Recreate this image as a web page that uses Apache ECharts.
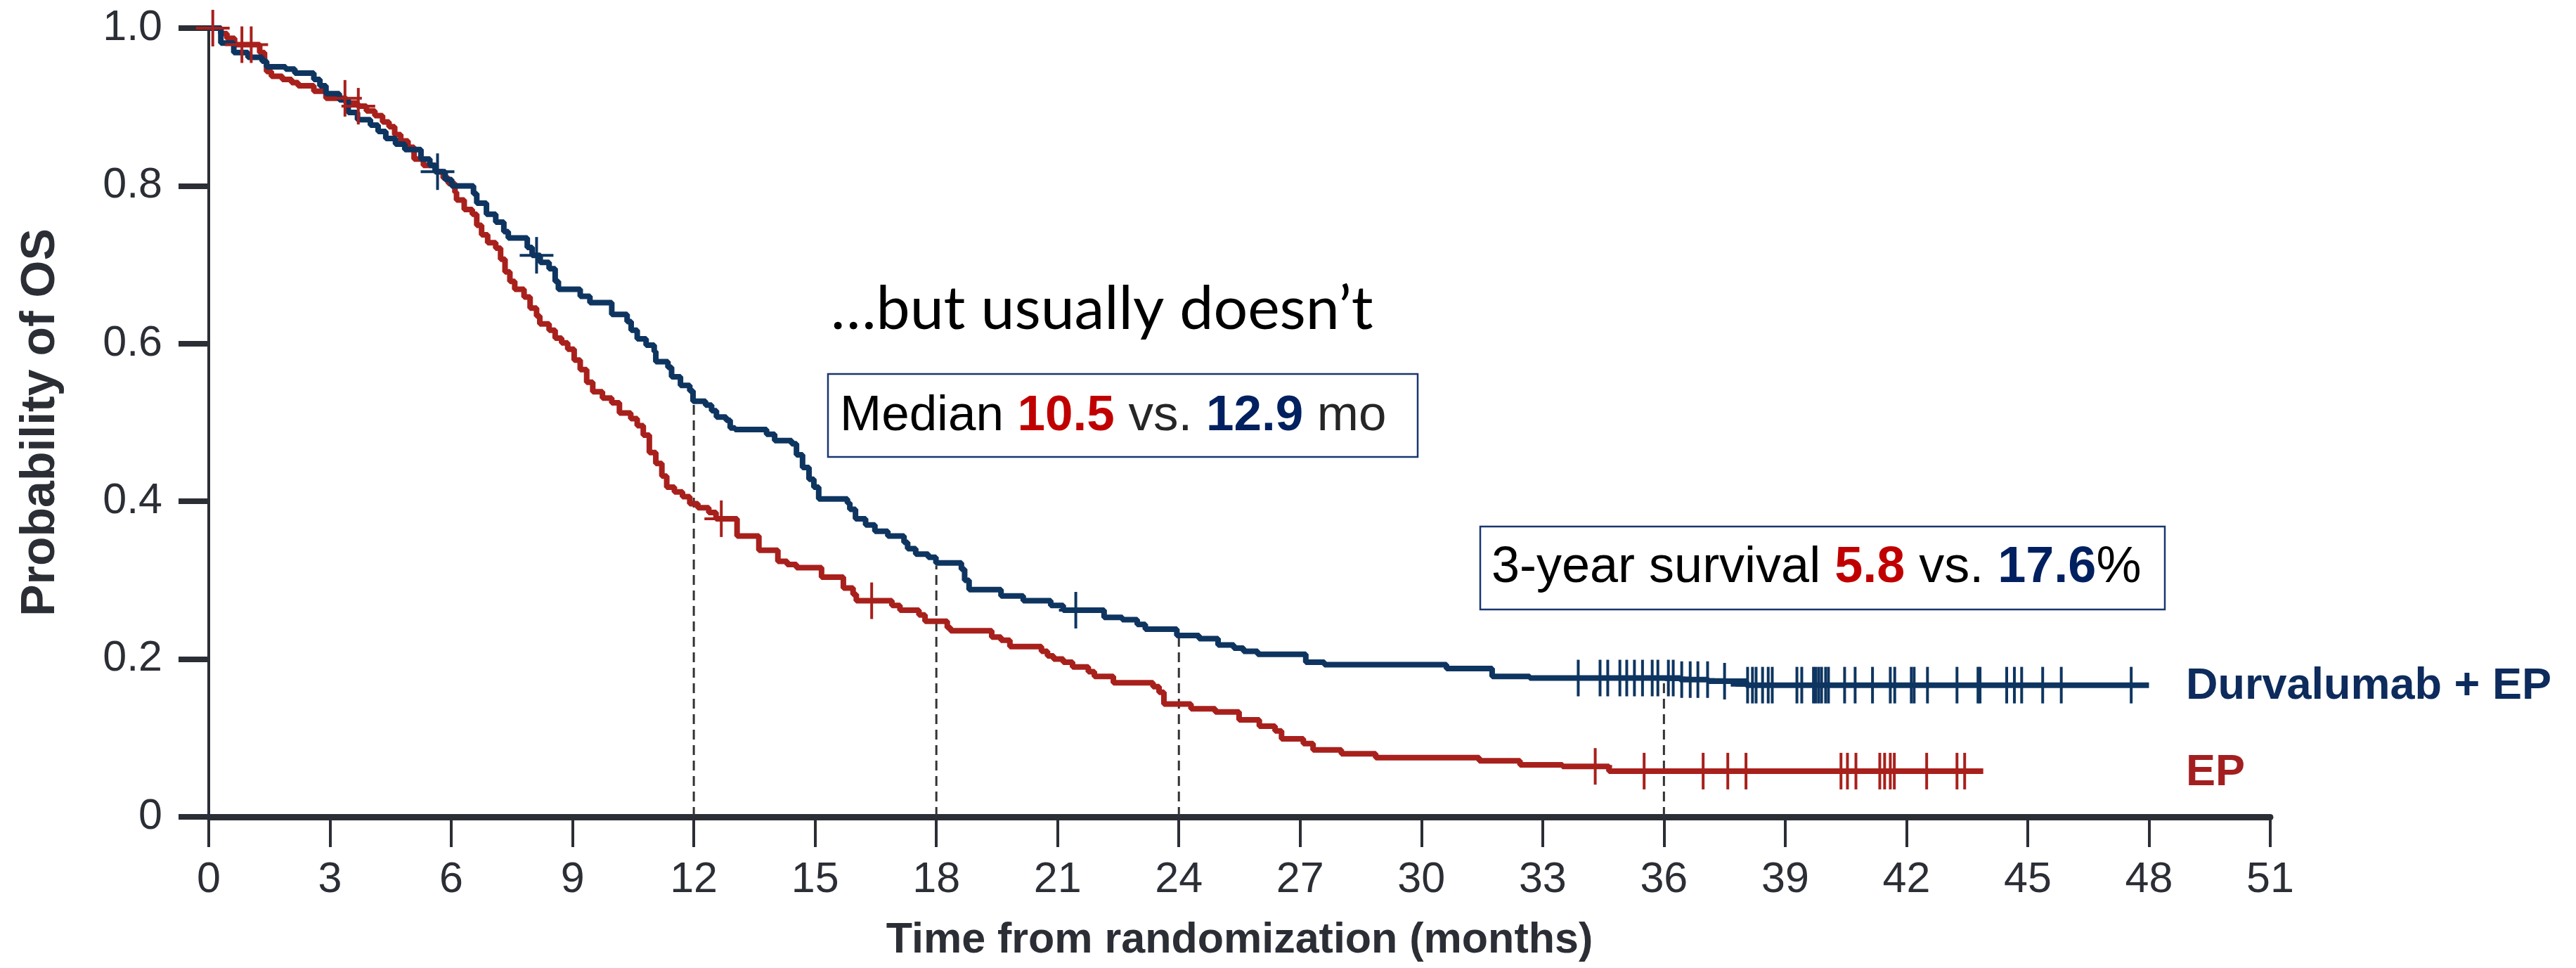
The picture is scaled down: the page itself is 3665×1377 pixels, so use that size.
<!DOCTYPE html>
<html><head><meta charset="utf-8">
<script src="https://cdn.jsdelivr.net/npm/echarts@6/dist/echarts.min.js"></script>
<style>html,body{margin:0;padding:0;background:#fff}#c{width:3665px;height:1377px}</style>
</head><body><div id="c"></div>
<script>
// ---- data ----
const durvaTimes = [0,0.3,0.62,0.97,1.32,1.43,1.9,2.13,2.6,2.75,2.9,3.23,3.45,3.68,4.0,4.19,4.38,4.62,4.85,5.25,5.47,5.6,5.85,6.01,6.55,6.63,6.87,7.1,7.3,7.41,7.88,8.0,8.2,8.42,8.57,8.65,9.19,9.43,9.97,10.35,10.45,10.6,10.82,11.02,11.06,11.36,11.45,11.67,11.9,11.98,12.29,12.44,12.56,12.8,12.9,13.02,13.8,14.0,14.42,14.54,14.69,14.85,14.97,15.09,15.8,15.86,16.0,16.25,16.48,16.8,17.2,17.29,17.49,17.8,17.99,18.62,18.7,18.81,19.6,20.15,20.83,21.14,22.15,22.6,22.97,23.17,23.95,24.5,24.97,25.36,25.6,25.95,27.14,27.6,30.62,31.75,32.68,36.4,37.1,38.04,48.0];
const durvaSurv = [1.0,0.981,0.969,0.963,0.958,0.951,0.948,0.943,0.935,0.927,0.917,0.909,0.893,0.884,0.877,0.869,0.860,0.853,0.846,0.834,0.826,0.818,0.808,0.800,0.790,0.778,0.764,0.754,0.742,0.734,0.722,0.712,0.703,0.695,0.679,0.669,0.660,0.652,0.637,0.628,0.617,0.606,0.598,0.590,0.577,0.570,0.558,0.547,0.540,0.527,0.522,0.515,0.507,0.503,0.493,0.491,0.485,0.477,0.473,0.459,0.443,0.428,0.418,0.403,0.398,0.390,0.378,0.370,0.362,0.356,0.348,0.340,0.333,0.329,0.322,0.314,0.300,0.288,0.280,0.274,0.268,0.262,0.253,0.250,0.244,0.238,0.230,0.226,0.218,0.214,0.210,0.206,0.196,0.193,0.188,0.178,0.176,0.174,0.172,0.167,0.167];
const epTimes = [0,0.3,0.45,0.64,1.26,1.38,1.43,1.55,1.82,2.05,2.21,2.6,2.9,3.4,3.68,3.9,4.11,4.3,4.46,4.6,4.75,4.93,5.08,5.31,5.62,5.8,5.93,6.09,6.13,6.32,6.52,6.63,6.75,6.9,7.1,7.22,7.33,7.45,7.57,7.8,7.95,8.11,8.19,8.42,8.57,8.73,8.88,9.04,9.19,9.35,9.5,9.74,9.97,10.16,10.44,10.6,10.75,10.9,11.06,11.21,11.33,11.52,11.72,11.9,12.1,12.37,12.55,13.07,13.61,14.08,14.31,14.54,15.16,15.7,15.94,16.02,16.9,17.1,17.57,17.72,18.27,18.35,19.37,19.6,19.82,20.6,20.75,20.9,21.14,21.37,21.76,21.91,22.38,23.36,23.51,23.63,24.3,24.9,25.49,25.99,26.38,26.54,27.08,27.32,28.02,28.87,31.43,32.44,33.49,34.64,43.9];
const epSurv = [1.0,0.993,0.987,0.979,0.969,0.957,0.945,0.939,0.935,0.931,0.927,0.920,0.911,0.905,0.901,0.895,0.889,0.881,0.875,0.865,0.857,0.849,0.834,0.826,0.818,0.810,0.803,0.792,0.782,0.770,0.764,0.750,0.738,0.728,0.721,0.707,0.691,0.679,0.669,0.659,0.645,0.635,0.625,0.617,0.607,0.601,0.593,0.579,0.567,0.551,0.539,0.531,0.525,0.512,0.505,0.496,0.484,0.462,0.448,0.432,0.418,0.412,0.406,0.397,0.392,0.386,0.378,0.356,0.338,0.324,0.320,0.316,0.304,0.290,0.282,0.274,0.268,0.262,0.256,0.248,0.240,0.236,0.228,0.224,0.216,0.210,0.204,0.200,0.196,0.190,0.184,0.178,0.170,0.165,0.158,0.143,0.137,0.133,0.123,0.115,0.109,0.099,0.093,0.085,0.080,0.075,0.071,0.066,0.064,0.058,0.058];
const durvaCensor = [5.66,8.11,21.45,33.88,34.42,34.61,34.91,35.08,35.27,35.47,35.71,35.85,36.11,36.23,36.44,36.65,36.84,37.08,37.5,38.07,38.19,38.28,38.44,38.58,38.68,39.29,39.41,39.70,39.76,39.83,39.9,40.0,40.07,40.47,40.73,41.16,41.6,41.71,42.12,42.19,42.52,43.25,43.77,43.82,44.48,44.67,44.85,45.37,45.83,47.56];
const epCensor = [0.1,0.82,1.05,3.37,3.7,12.68,16.4,34.3,35.51,36.97,37.58,38.03,40.38,40.54,40.75,41.34,41.46,41.6,41.7,42.5,43.25,43.44];
const refTimes = [12, 18, 24, 36];
const seriesNames = ['Durvalumab + EP', 'EP'];
const xAxisTitle = 'Time from randomization (months)';
const yAxisTitle = 'Probability of OS';

// ---- helpers ----
function pairs(ts, vs) { return ts.map((t, i) => [t, vs[i]]); }
function survAt(ts, vs, t) { let v = vs[0]; for (let i = 0; i < ts.length; i++) { if (ts[i] <= t) v = vs[i]; else break; } return v; }

const BLUE = '#0E3560';
const RED = '#A8201C';
const AXIS = '#2B2E35';
const SANS = "'Liberation Sans',Arial,sans-serif";

function censorSeries(ts, vs, cens, color) {
  return {
    type: 'custom', z: 4, silent: true,
    data: cens.map(t => [t, survAt(ts, vs, t)]),
    renderItem: function (params, api) {
      const p = api.coord([api.value(0), api.value(1)]);
      return { type: 'group', children: [
        { type: 'line', shape: { x1: p[0], y1: p[1] - 26, x2: p[0], y2: p[1] + 26 }, style: { stroke: color, lineWidth: 4 } },
        { type: 'line', shape: { x1: p[0] - 24, y1: p[1], x2: p[0] + 24, y2: p[1] }, style: { stroke: color, lineWidth: 4 } }
      ]};
    }
  };
}

const chart = echarts.init(document.getElementById('c'), null, { renderer: 'canvas' });
chart.setOption({
  animation: false,
  backgroundColor: '#ffffff',
  grid: { left: 297, right: 435, top: 40, bottom: 215, containLabel: false },
  xAxis: {
    type: 'value', min: 0, max: 51, interval: 3,
    name: xAxisTitle, nameLocation: 'middle', nameGap: 146,
    nameTextStyle: { fontFamily: SANS, fontWeight: 'bold', fontSize: 61, color: AXIS },
    axisLine: { lineStyle: { color: AXIS, width: 9 } },
    axisTick: { length: 43, lineStyle: { color: AXIS, width: 4 } },
    axisLabel: { fontFamily: SANS, fontSize: 61, color: AXIS, margin: 60 },
    splitLine: { show: false }
  },
  yAxis: {
    type: 'value', min: 0, max: 1, interval: 0.2,
    name: yAxisTitle, nameLocation: 'middle', nameRotate: 90, nameGap: 205,
    nameTextStyle: { fontFamily: SANS, fontWeight: 'bold', fontSize: 68, color: AXIS },
    axisLine: { show: true, lineStyle: { color: AXIS, width: 4 } },
    axisTick: { show: true, length: 43, lineStyle: { color: AXIS, width: 8 } },
    axisLabel: { fontFamily: SANS, fontSize: 61, color: AXIS, margin: 66,
      formatter: v => v === 0 ? '0' : v.toFixed(1) },
    splitLine: { show: false }
  },
  series: [
    { type: 'custom', z: 1, silent: true,
      data: refTimes.map(t => [t, survAt(durvaTimes, durvaSurv, t)]),
      renderItem: function (params, api) {
        const a = api.coord([api.value(0), 0]);
        const b = api.coord([api.value(0), api.value(1)]);
        return { type: 'line', shape: { x1: a[0], y1: a[1], x2: b[0], y2: b[1] + 4 },
          style: { stroke: '#333333', lineWidth: 3, lineDash: [14, 8] } };
      }
    },
    { name: seriesNames[1], type: 'line', step: 'end', z: 3, showSymbol: false, silent: true,
      data: pairs(epTimes, epSurv), lineStyle: { color: RED, width: 8 } },
    { name: seriesNames[0], type: 'line', step: 'end', z: 3, showSymbol: false, silent: true,
      data: pairs(durvaTimes, durvaSurv), lineStyle: { color: BLUE, width: 8 } },
    censorSeries(epTimes, epSurv, epCensor, RED),
    censorSeries(durvaTimes, durvaSurv, durvaCensor, BLUE)
  ],
  graphic: [
    { type: 'text', x: 1182, y: 440, z: 10,
      style: { text: '\u2026but usually doesn\u2019t', fill: '#000', font: "86px Lato, 'Open Sans', sans-serif",
        textAlign: 'left', textVerticalAlign: 'middle', align: 'left', verticalAlign: 'middle' } },
    { type: 'rect', z: 10, shape: { x: 1178, y: 532, width: 839, height: 118 },
      style: { fill: '#ffffff', stroke: '#1A3670', lineWidth: 2.5 } },
    { type: 'text', x: 1195, y: 592, z: 11,
      style: { text: '{k|Median }{r|10.5}{g| vs. }{b|12.9}{g| mo}',
        font: "71px 'Liberation Sans', Arial, sans-serif", fill: '#000',
        textAlign: 'left', textVerticalAlign: 'middle', align: 'left', verticalAlign: 'middle',
        rich: {
          k: { fill: '#000000', fontSize: 71, fontFamily: SANS },
          g: { fill: '#262626', fontSize: 71, fontFamily: SANS },
          r: { fill: '#C00000', fontSize: 71, fontFamily: SANS, fontWeight: 'bold' },
          b: { fill: '#002060', fontSize: 71, fontFamily: SANS, fontWeight: 'bold' }
        } } },
    { type: 'rect', z: 10, shape: { x: 2106, y: 749, width: 974, height: 118 },
      style: { fill: '#ffffff', stroke: '#1A3670', lineWidth: 2.5 } },
    { type: 'text', x: 2122, y: 808, z: 11,
      style: { text: '{k|3-year survival }{r|5.8}{k| vs. }{b|17.6}{k|%}',
        font: "72px 'Liberation Sans', Arial, sans-serif", fill: '#000',
        textAlign: 'left', textVerticalAlign: 'middle', align: 'left', verticalAlign: 'middle',
        rich: {
          k: { fill: '#000000', fontSize: 72, fontFamily: SANS },
          r: { fill: '#C00000', fontSize: 72, fontFamily: SANS, fontWeight: 'bold' },
          b: { fill: '#002060', fontSize: 72, fontFamily: SANS, fontWeight: 'bold' }
        } } },
    { type: 'text', x: 3110, y: 977, z: 11,
      style: { text: seriesNames[0], fill: '#0D2B5C', font: "bold 63px 'Liberation Sans', Arial, sans-serif",
        textAlign: 'left', textVerticalAlign: 'middle', align: 'left', verticalAlign: 'middle' } },
    { type: 'text', x: 3110, y: 1100, z: 11,
      style: { text: seriesNames[1], fill: '#A31F1F', font: "bold 63px 'Liberation Sans', Arial, sans-serif",
        textAlign: 'left', textVerticalAlign: 'middle', align: 'left', verticalAlign: 'middle' } }
  ]
});
</script>
</body></html>
